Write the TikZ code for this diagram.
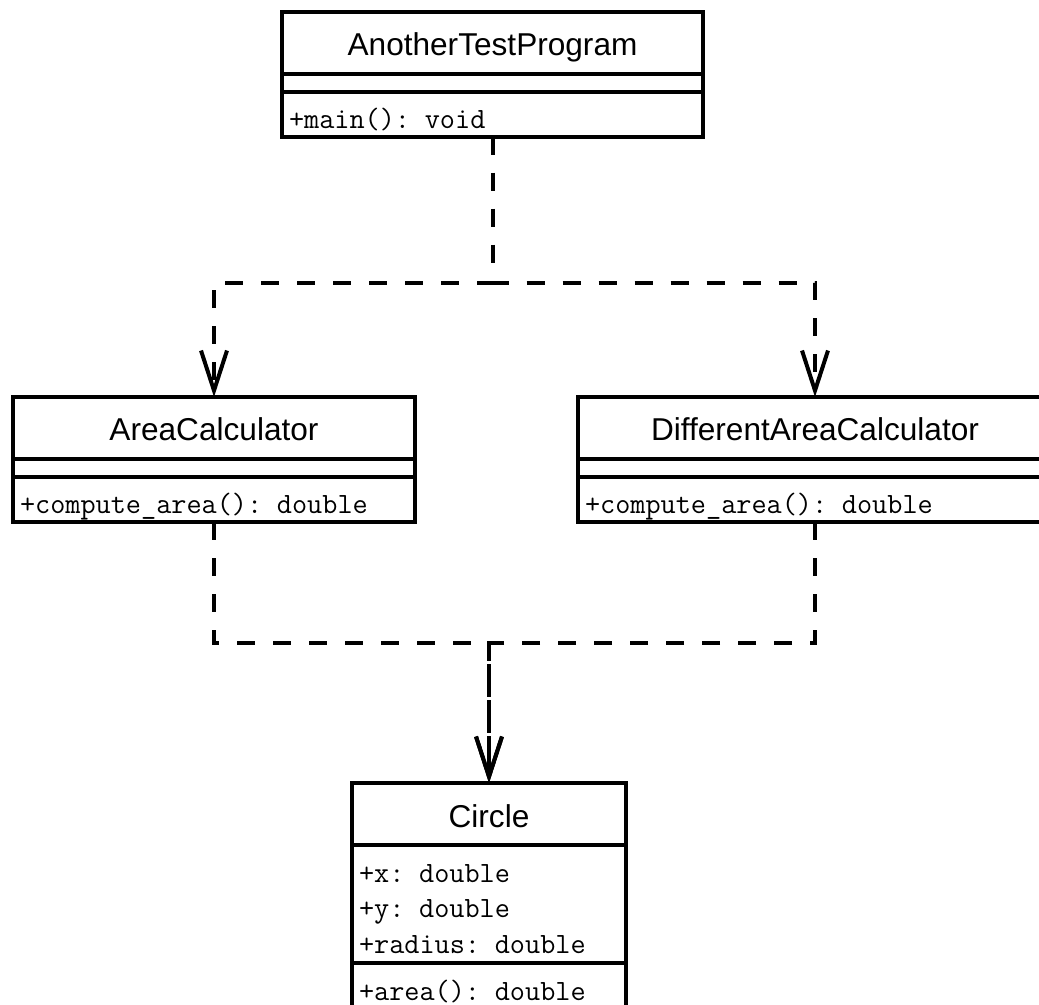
\documentclass[tikz,border=0pt]{standalone}
\usepackage{fontspec}
\setmainfont{Liberation Sans}
\usetikzlibrary{arrows.meta, positioning}

\begin{document}
\begin{tikzpicture}[
    x=0.5pt, y=-0.5pt,
    node distance=0pt,
    every node/.style={outer sep=0pt},
    classname/.style={rectangle, draw, line width=2pt, anchor=north, minimum height=31pt, font=\fontsize{15.8}{18}\selectfont, text height=13pt, text depth=0pt},
    compart/.style={rectangle, draw, line width=2pt, align=left, inner xsep=3.5pt, inner ysep=0pt, font=\ttfamily\fontsize{14.7}{17.75}\selectfont},
    ops/.style={compart, minimum height=22.5pt, text height=14.5pt, text depth=0pt},
    dep/.style={-{Straight Barb[length=20pt, width=13pt]}, line width=2pt, dash pattern=on 9pt off 9pt}
]
\useasboundingbox (0,0) rectangle (1039,1005);

% --- classes ---
\node (atp) [classname, minimum width=210.5pt] at (492.5,12) {AnotherTestProgram};
\node (atp-attr) [compart, minimum width=210.5pt, minimum height=9pt, below=of atp] {};
\node (atp-ops) [ops, text width=203.5pt, below=of atp-attr] {+main(): void};

\node (ac) [classname, minimum width=201pt] at (214,397) {AreaCalculator};
\node (ac-attr) [compart, minimum width=201pt, minimum height=9pt, below=of ac] {};
\node (ac-ops) [ops, text width=194pt, below=of ac-attr] {+compute\_area(): double};

\node (dac) [classname, minimum width=237pt] at (815,397) {DifferentAreaCalculator};
\node (dac-attr) [compart, minimum width=237pt, minimum height=9pt, below=of dac] {};
\node (dac-ops) [ops, text width=230pt, below=of dac-attr] {+compute\_area(): double};

\node (cir) [classname, minimum width=137pt] at (489,783) {Circle};
\node (cir-attr) [compart, text width=130pt, minimum height=59pt, text height=13pt, text depth=35pt, below=of cir] {+x: double\\+y: double\\+radius: double};
\node (cir-ops) [ops, text width=130pt, below=of cir-attr] {+area(): double};

% --- dependencies ---
\draw [dep] (atp-ops.south) -- ++(0,146) -| (ac.north);
\draw [dep] (atp-ops.south) -- ++(0,146) -| (dac.north);
\draw [dep] (ac-ops.south) -- ++(0,121) -| (cir.north);
\draw [dep] (dac-ops.south) -- ++(0,121) -| (cir.north);

\end{tikzpicture}
\end{document}
